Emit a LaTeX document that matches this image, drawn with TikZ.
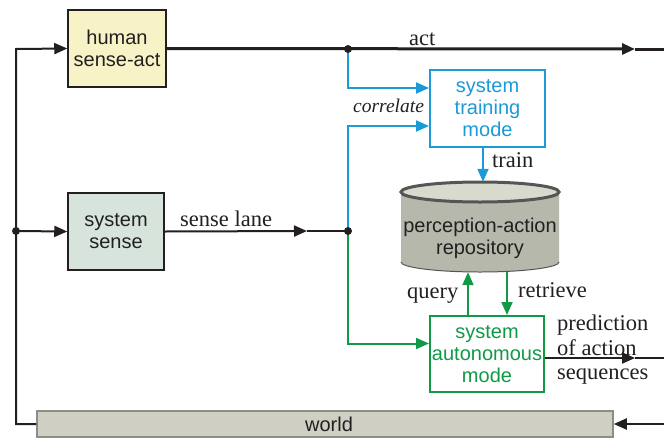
\documentclass[tikz,border=0pt]{standalone}
\usepackage{fontspec}
\setmainfont{Liberation Serif}
\setsansfont{Liberation Sans}
\usetikzlibrary{arrows.meta}
\definecolor{ink}{HTML}{231F20}
\definecolor{sysblue}{HTML}{1B9AD7}
\definecolor{sysgreen}{HTML}{109A48}
\definecolor{humanfill}{HTML}{F8F3C6}
\definecolor{sensefill}{HTML}{D7E4DC}
\definecolor{worldfill}{HTML}{CFD0C3}
\definecolor{worldrim}{HTML}{8C8D86}
\definecolor{cylbody}{HTML}{B6B8AC}
\definecolor{cyltop}{HTML}{D8DACE}
\definecolor{cylrim}{HTML}{555555}
\begin{document}
\begin{tikzpicture}[x=1pt,y=-1pt,
  boxtext/.style={font=\sffamily\fontsize{20}{22}\selectfont, align=center, text=ink},
  lbl/.style={font=\fontsize{22.5}{24}\selectfont, text=ink, inner sep=0pt, anchor=base west},
  blockbox/.style={boxtext, draw=ink, line width=1.5pt, inner sep=0pt},
  modebox/.style={boxtext, line width=2pt, fill=white, inner sep=0pt},
  tip/.style={-{Triangle[length=13pt,width=11pt]}},
  wire/.style={draw=ink, line width=2pt, line join=miter},
  actwire/.style={draw=ink, line width=3pt},
  bluewire/.style={draw=sysblue, line width=2pt},
  greenwire/.style={draw=sysgreen, line width=2pt},
  dot/.style={fill=ink}
]
\useasboundingbox (0,0) rectangle (664,437);

% blocks
\node[blockbox, fill=humanfill, minimum width=98pt, minimum height=77pt] (human) at (117,48.5) {human\\sense-act};
\node[blockbox, fill=sensefill, minimum width=96pt, minimum height=77pt] (sense) at (116,231.5) {system\\sense};
\node[modebox, draw=sysblue, text=sysblue, minimum width=115pt, minimum height=77pt] (train) at (487.5,108.5) {system\\training\\mode};
\node[modebox, draw=sysgreen, text=sysgreen, minimum width=114pt, minimum height=76pt] (auto) at (487,354) {system\\autonomous\\mode};
\node[boxtext, draw=worldrim, fill=worldfill, line width=1.5pt, minimum width=576pt, minimum height=26pt, inner sep=0pt] (world) at (325,424) {};
\node[boxtext, inner sep=0pt] (worldtext) at (329,424) {world};

% perception-action repository (cylinder)
\fill[cylbody] (401,192) -- (401,262) arc[start angle=180, end angle=0, x radius=79, y radius=10] -- (559,192) -- cycle;
\draw[cylrim, line width=1pt] (401,262) arc[start angle=180, end angle=0, x radius=79, y radius=10];
\draw[draw=cylrim, fill=cyltop, line width=3pt] (480,192) ellipse[x radius=79, y radius=10];
\node[boxtext, minimum width=159pt, minimum height=90pt, inner sep=0pt] (repo) at (480,227) {};
\node[boxtext, inner sep=0pt] (repotext) at (480,238) {perception-action\\repository};

% junctions and bends
\coordinate (ft) at (16,49);
\coordinate (fm) at (16,231);
\coordinate (fl) at (16,424);
\coordinate (split1) at (348,49);
\coordinate (split2) at (348,231);
\coordinate (acttip) at (635,49);
\coordinate (actend) at (664,49);
\coordinate (sltip) at (307,231);
\coordinate (predtip) at (635,358);
\coordinate (predend) at (664,358);
\coordinate (worldin) at (664,424);

% black connectors
\draw[wire, tip] (world.west) -- (fl) -- (ft) -- (human.west);
\draw[wire, tip] (fm) -- (sense.west);
\draw[actwire, tip] (human.east) -- (acttip);
\draw[actwire] (acttip) -- (actend);
\draw[wire, tip] (sense.east) -- (sltip);
\draw[wire] (sltip) -- (split2);
\draw[wire, tip] ([yshift=-4pt]auto.east) -- (predtip);
\draw[wire] (predtip) -- (predend);
\draw[wire, tip] (worldin) -- (world.east);

% training path
\draw[bluewire, tip] (split1) |- ([yshift=20.5pt]train.west);
\draw[bluewire, tip] (split2) |- ([yshift=-17.5pt]train.west);
\draw[bluewire, tip] ([xshift=-4.5pt]train.south) -- ([xshift=-4.5pt]train.south |- repo.north);

% autonomous path
\draw[greenwire, tip] (split2) |- ([yshift=10.5pt]auto.west);
\draw[greenwire, tip] ([xshift=-19pt]auto.north) -- ([xshift=-19pt]auto.north |- repo.south);
\draw[greenwire, tip] ([xshift=20pt]auto.north |- repo.south) -- ([xshift=20pt]auto.north);

% junction dots
\fill[dot] (fm) circle[radius=4];
\fill[dot] (split1) circle[radius=4];
\fill[dot] (split2) circle[radius=4];

% labels
\node[lbl] (actlbl) at (409,45) {act};
\node[lbl, font=\itshape\fontsize{19.5}{22}\selectfont] (corrlbl) at (353,112) {correlate};
\node[lbl] (trainlbl) at (492,167) {train};
\node[lbl] (senselbl) at (180,226) {sense lane};
\node[lbl] (querylbl) at (407,298) {query};
\node[lbl] (retrlbl) at (518,297) {retrieve};
\node[lbl] (pred1) at (557,330) {prediction};
\node[lbl] (pred2) at (557,355) {of action};
\node[lbl] (pred3) at (557,379) {sequences};
\end{tikzpicture}
\end{document}
